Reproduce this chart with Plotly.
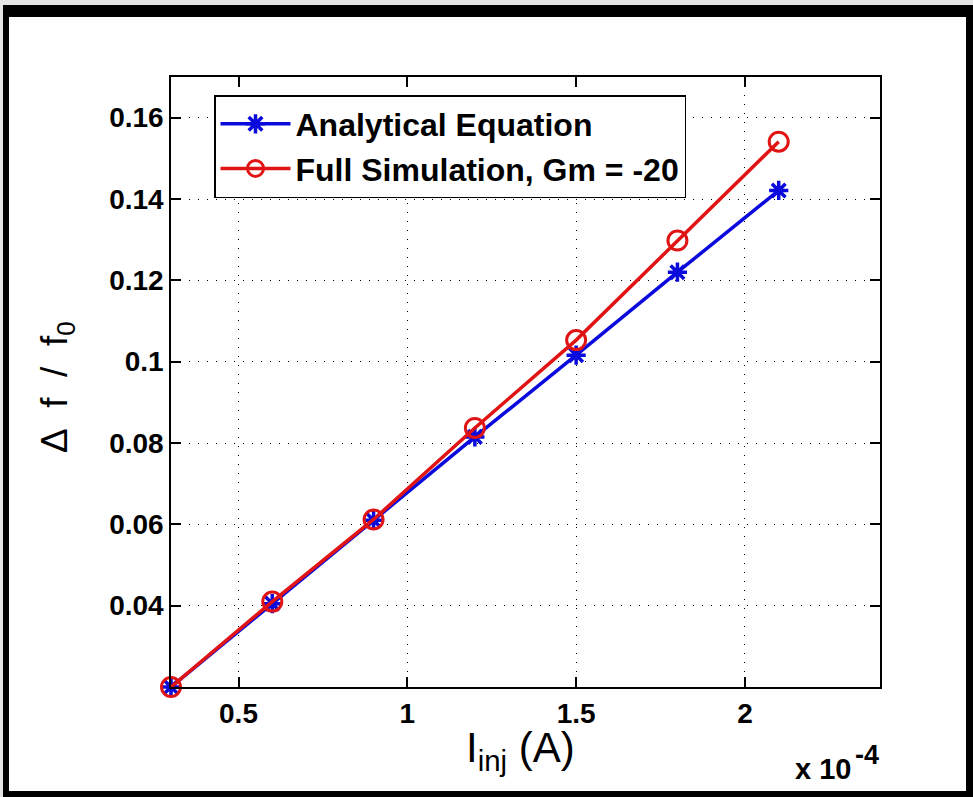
import plotly.graph_objects as go

# Data (x in units of 1e-4 A)
i_inj = [0.3, 0.6, 0.9, 1.2, 1.5, 1.8, 2.1]
analytical = [0.020, 0.0405, 0.0610, 0.0815, 0.1016, 0.1220, 0.1421]
full_sim = [0.020, 0.0410, 0.0612, 0.0837, 0.1053, 0.1298, 0.1541]
x_ticks = [0.5, 1, 1.5, 2]
x_tick_labels = ["0.5", "1", "1.5", "2"]
y_ticks = [0.04, 0.06, 0.08, 0.1, 0.12, 0.14, 0.16]
y_tick_labels = ["0.04", "0.06", "0.08", "0.1", "0.12", "0.14", "0.16"]

W, H = 973, 797
L, R, T, B = 171, 880, 77, 687
PW, PH = R - L, B - T


def px(x):
    return (x - L) / PW


def py(y):
    return (B - y) / PH


BLUE = "#0a0adc"
RED = "#e01414"
FONT = "Liberation Sans, Arial, sans-serif"

fig = go.Figure()
fig.add_trace(go.Scatter(
    x=i_inj, y=analytical, mode="lines+markers", name="Analytical Equation",
    line=dict(color=BLUE, width=3.5), cliponaxis=False,
    marker=dict(symbol="asterisk-open", size=16, line=dict(color=BLUE, width=3.5)),
))
fig.add_trace(go.Scatter(
    x=i_inj, y=full_sim, mode="lines+markers", name="Full Simulation, Gm = -20",
    line=dict(color=RED, width=3.5), cliponaxis=False,
    marker=dict(symbol="circle-open", size=19, color=RED, line=dict(color=RED, width=3)),
))

axis_common = dict(
    showline=True, linecolor="black", linewidth=1.5, mirror="allticks",
    ticks="inside", ticklen=10, tickwidth=1.5, tickcolor="black",
    showgrid=True, gridcolor="black", gridwidth=1, griddash="1px,8px",
    zeroline=False,
    tickfont=dict(family=FONT, size=28, color="black", weight="bold"),
)

fig.update_xaxes(range=[0.3, 2.4], tickvals=x_ticks, ticktext=x_tick_labels,
                 ticklabelstandoff=1, **axis_common)
fig.update_yaxes(range=[0.02, 0.17], tickvals=y_ticks, ticktext=y_tick_labels,
                 ticklabelstandoff=0, **axis_common)

shapes = [
    dict(type="rect", xref="paper", yref="paper", layer="below",
         x0=px(3), x1=px(990), y0=py(5), y1=py(810),
         fillcolor="black", line=dict(width=0)),
    dict(type="rect", xref="paper", yref="paper", layer="below",
         x0=px(9), x1=px(966), y0=py(17), y1=py(791),
         fillcolor="white", line=dict(width=0)),
]

annotations = [
    dict(text="\u0394\u00a0 f\u00a0 /\u00a0 f<sub>0</sub>", xref="paper", yref="paper",
         x=px(57), y=py(387), textangle=-90, showarrow=False,
         font=dict(family=FONT, size=37, color="black"),
         xanchor="center", yanchor="middle"),
    dict(text="I<sub>inj</sub> (A)", xref="paper", yref="paper",
         x=px(520), y=py(750), showarrow=False,
         font=dict(family=FONT, size=42, color="black"),
         xanchor="center", yanchor="middle"),
    dict(text="x 10", xref="paper", yref="paper",
         x=px(853), y=py(787), showarrow=False,
         font=dict(family=FONT, size=29, color="black", weight="bold"),
         xanchor="right", yanchor="bottom"),
    dict(text="-4", xref="paper", yref="paper",
         x=px(853), y=py(755), showarrow=False,
         font=dict(family=FONT, size=27, color="black", weight="bold"),
         xanchor="left", yanchor="middle"),
]

fig.update_layout(
    width=W, height=H,
    margin=dict(l=L, r=W - R, t=T, b=H - B, pad=0),
    paper_bgcolor="#e4e4e4",
    plot_bgcolor="rgba(0,0,0,0)",
    shapes=shapes,
    annotations=annotations,
    showlegend=True,
    legend=dict(
        x=px(214), y=py(95), xanchor="left", yanchor="top",
        bgcolor="white", bordercolor="black", borderwidth=1.5,
        font=dict(family=FONT, size=32, color="black", weight="bold"),
        itemwidth=70,
    ),
)

fig.write_html("out.html", config={"displayModeBar": False},
               post_script="document.body.style.margin='0';")
